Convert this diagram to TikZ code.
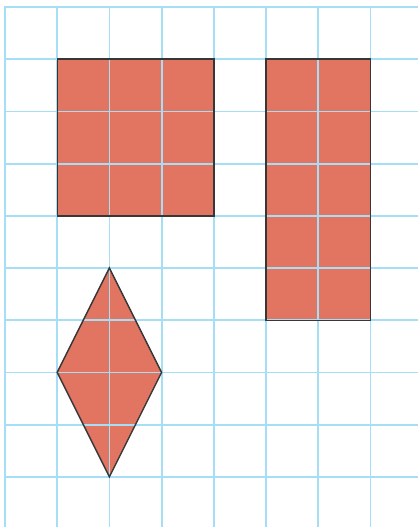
\documentclass[tikz,border=0pt]{standalone}
\definecolor{gridblue}{RGB}{165,222,245}
\definecolor{shapefill}{RGB}{225,117,98}
\definecolor{edgegray}{RGB}{55,55,55}
\tikzset{
  gridline/.style={draw=gridblue, line width=1.8pt},
  shapebox/.style={fill=shapefill},
  shapeedge/.style={draw=edgegray, line width=1.4pt, line join=miter},
}
\begin{document}
\begin{tikzpicture}[x=1pt,y=-1pt]
\useasboundingbox[fill=white] (0,0) rectangle (418,527);
\def\u{52.2}
% shape fills
\fill[shapebox] (5+\u,7+\u) rectangle (5+4*\u,7+4*\u);
\fill[shapebox] (5+5*\u,7+\u) rectangle (5+7*\u,7+6*\u);
\fill[shapebox] (5+2*\u,7+5*\u) -- (5+3*\u,7+7*\u) -- (5+2*\u,7+9*\u) -- (5+\u,7+7*\u) -- cycle;
% grid
\foreach \i in {0,...,8} {
  \draw[gridline] (5+\i*\u,6.1) -- (5+\i*\u,527);
}
\foreach \j in {0,...,10} {
  \draw[gridline] (4.1,7+\j*\u) -- (418,7+\j*\u);
}
% outlines
\draw[shapeedge] (5+\u,7+\u) rectangle (5+4*\u,7+4*\u);
\draw[shapeedge] (5+5*\u,7+\u) rectangle (5+7*\u,7+6*\u);
\draw[shapeedge] (5+2*\u,7+5*\u) -- (5+3*\u,7+7*\u) -- (5+2*\u,7+9*\u) -- (5+\u,7+7*\u) -- cycle;
\end{tikzpicture}
\end{document}
